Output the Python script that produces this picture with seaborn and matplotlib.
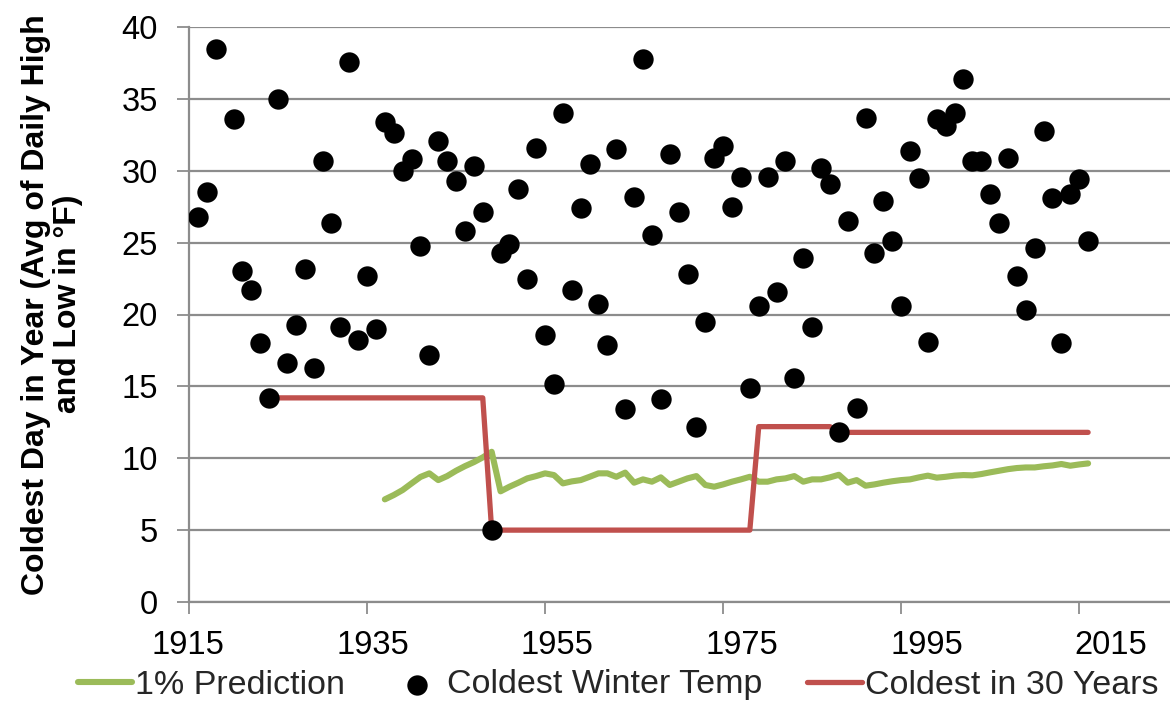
import numpy as np
import pandas as pd
import matplotlib
matplotlib.use("Agg")
import matplotlib.pyplot as plt
import matplotlib.transforms as mtransforms
import seaborn as sns

# ---------------- data ----------------
temp_years = list(range(1916, 2017))
coldest_temp = [
    26.8, 28.5, 38.5, np.nan, 33.6, 23.0, 21.7, 18.0, 14.2, 35.0,
    16.6, 19.3, 23.2, 16.3, 30.7, 26.4, 19.1, 37.6, 18.2, 22.7,
    19.0, 33.4, 32.6, 30.0, 30.8, 24.8, 17.2, 32.1, 30.7, 29.3,
    25.8, 30.3, 27.1, 5.0, 24.3, 24.9, 28.7, 22.5, 31.6, 18.6,
    15.2, 34.0, 21.7, 27.4, 30.5, 20.7, 17.9, 31.5, 13.4, 28.2,
    37.8, 25.5, 14.1, 31.2, 27.1, 22.8, 12.2, 19.5, 30.9, 31.7,
    27.5, 29.6, 14.9, 20.6, 29.6, 21.6, 30.7, 15.6, 23.9, 19.1,
    30.2, 29.1, 11.8, 26.5, 13.5, 33.7, 24.3, 27.9, 25.1, 20.6,
    31.4, 29.5, 18.1, 33.6, 33.1, 34.0, 36.4, 30.7, 30.7, 28.4,
    26.4, 30.9, 22.7, 20.3, 24.6, 32.8, 28.1, 18.0, 28.4, 29.4,
    25.1,
]

pred_years = list(range(1937, 2017))
pred_values = [
    7.14, 7.44, 7.79, 8.25, 8.70, 8.95, 8.48, 8.76, 9.13, 9.45,
    9.73, 10.06, 10.45, 7.70, 8.02, 8.30, 8.60, 8.76, 8.95, 8.83,
    8.25, 8.39, 8.48, 8.71, 8.95, 8.95, 8.71, 9.00, 8.30, 8.53,
    8.37, 8.67, 8.14, 8.37, 8.60, 8.76, 8.14, 8.02, 8.18, 8.37,
    8.53, 8.71, 8.37, 8.37, 8.53, 8.60, 8.76, 8.37, 8.53, 8.53,
    8.67, 8.85, 8.30, 8.48, 8.09, 8.18, 8.30, 8.40, 8.48, 8.53,
    8.67, 8.79, 8.65, 8.71, 8.79, 8.83, 8.81, 8.90, 9.02, 9.13,
    9.24, 9.32, 9.36, 9.36, 9.44, 9.50, 9.60, 9.48, 9.57, 9.64,
]

min30_years = [1924, 1948, 1949, 1978, 1979, 1987, 1988, 2016]
min30_values = [14.2, 14.2, 5.0, 5.0, 12.2, 12.2, 11.8, 11.8]

x_ticks = [1915, 1935, 1955, 1975, 1995, 2015]
y_ticks = [0, 5, 10, 15, 20, 25, 30, 35, 40]

series_names = ["1% Prediction", "Coldest Winter Temp", "Coldest in 30 Years"]
y_label = "Coldest Day in Year (Avg of Daily High\nand Low in °F)"

# ---------------- style ----------------
sns.set_theme(style="white")
plt.rcParams['font.family'] = ['Liberation Sans', 'DejaVu Sans']

GREEN = "#9BBB59"
RED = "#C0504D"
GRAY = "#8C8C8C"

fig = plt.figure(figsize=(11.7, 7.02), dpi=100)
ax = fig.add_axes([189 / 1170, 100 / 702, (1170 - 189) / 1170, 575 / 702])

temp_df = pd.DataFrame({"year": temp_years, "temp": coldest_temp}).dropna()
pred_df = pd.DataFrame({"year": pred_years, "value": pred_values})
min_df = pd.DataFrame({"year": min30_years, "value": min30_values})

sns.lineplot(data=pred_df, x="year", y="value", ax=ax, color=GREEN, lw=4.4,
             label=series_names[0], zorder=2, solid_capstyle="round",
             solid_joinstyle="round")
sns.scatterplot(data=temp_df, x="year", y="temp", ax=ax, color="black", s=215,
                linewidth=0, label=series_names[1], zorder=4)
sns.lineplot(data=min_df, x="year", y="value", ax=ax, color=RED, lw=3.8,
             label=series_names[2], zorder=3, solid_capstyle="round")

ax.set_xlim(1915, 2025.2)
ax.set_ylim(0, 40)
ax.set_xticks(x_ticks)
ax.set_xticklabels([str(t) for t in x_ticks])
ax.set_yticks(y_ticks)
ax.set_yticklabels([str(t) for t in y_ticks])

ax.yaxis.grid(True, color=GRAY, lw=1.6)
ax.xaxis.grid(False)
ax.set_axisbelow(True)
for side in ["top", "right"]:
    ax.spines[side].set_visible(False)
for side in ["left", "bottom"]:
    ax.spines[side].set_color(GRAY)
    ax.spines[side].set_linewidth(1.6)

ax.tick_params(axis="both", which="major", direction="out", length=8.5,
               width=1.3, color=GRAY, labelsize=23.5, labelcolor="black",
               bottom=True, left=True)
ax.tick_params(axis="y", pad=14)
ax.tick_params(axis="x", pad=12)

# Excel places the year labels slightly drifting to the right
for i, lbl in enumerate(ax.get_xticklabels()):
    off = (i * 6.6 - 1) / 100.0
    lbl.set_transform(lbl.get_transform() +
                      mtransforms.ScaledTranslation(off, 0, fig.dpi_scale_trans))

ax.set_xlabel("")
ax.set_ylabel(y_label, fontsize=23, fontweight="bold", color="black",
              linespacing=1.1)
ax.yaxis.set_label_coords(-0.108, 0.518)

handles, labels = ax.get_legend_handles_labels()
if ax.get_legend() is not None:
    ax.get_legend().remove()
fig.legend(handles, labels, loc="center", bbox_to_anchor=(618 / 1170, 17 / 702),
           ncol=3, frameon=False, fontsize=24.5, handlelength=1.6,
           handletextpad=0.1, columnspacing=1.3, borderpad=0.0,
           scatterpoints=1)

fig.savefig("out.png", dpi=100)
